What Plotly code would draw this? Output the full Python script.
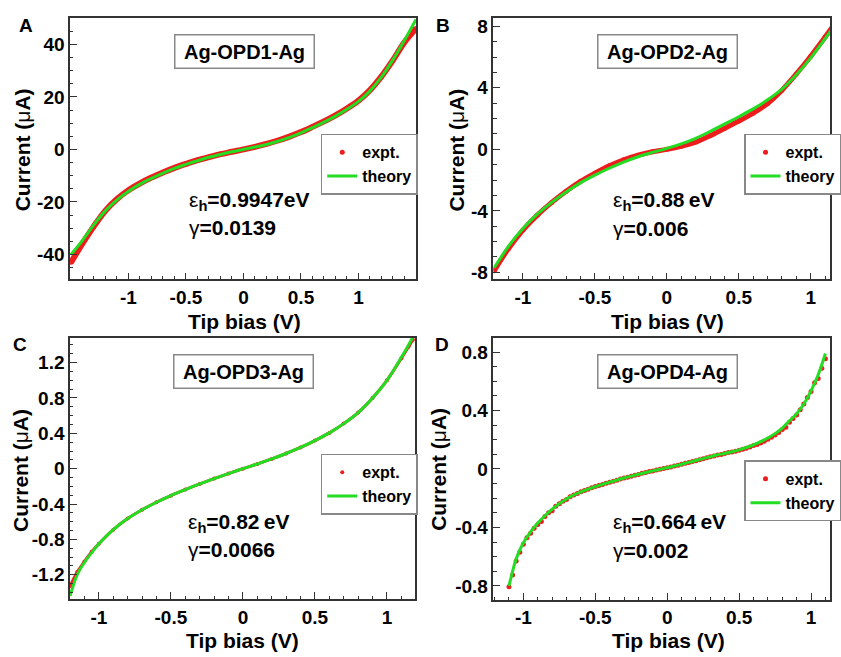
import plotly.graph_objects as go

# ---------------- data ----------------
# Panel A : Ag-OPD1-Ag
a_bias = [-1.5, -1.4, -1.3, -1.2, -1.1, -1.0, -0.9, -0.8, -0.7, -0.6, -0.5, -0.4, -0.3, -0.2, -0.1, 0.0,
          0.1, 0.2, 0.3, 0.4, 0.5, 0.6, 0.7, 0.8, 0.9, 1.0, 1.1, 1.2, 1.3, 1.4, 1.5]
a_expt = [-43.0, -35.8, -29.2, -23.3, -18.9, -15.5, -12.9, -10.7, -8.8, -7.0, -5.5, -4.1, -2.9, -1.8, -0.9, 0.0,
          1.0, 2.1, 3.4, 4.9, 6.6, 8.6, 10.7, 13.0, 15.6, 18.6, 22.6, 27.8, 34.0, 40.8, 46.0]
a_theory = [-40.0, -34.6, -28.6, -23.3, -19.2, -15.9, -13.2, -11.0, -9.0, -7.2, -5.7, -4.3, -3.0, -1.9, -0.9, 0.0,
            0.9, 1.9, 3.1, 4.6, 6.3, 8.3, 10.4, 12.7, 15.3, 18.3, 22.3, 27.6, 34.2, 41.6, 49.5]

# Panel B : Ag-OPD2-Ag
b_bias = [-1.2, -1.1, -1.0, -0.9, -0.8, -0.7, -0.6, -0.5, -0.4, -0.3, -0.2, -0.1, 0.0,
          0.1, 0.2, 0.3, 0.4, 0.5, 0.6, 0.7, 0.8, 0.9, 1.0, 1.1, 1.2]
b_expt = [-7.9, -6.45, -5.25, -4.28, -3.45, -2.72, -2.08, -1.55, -1.07, -0.68, -0.38, -0.16, 0.0,
          0.2, 0.47, 0.88, 1.36, 1.84, 2.35, 2.98, 3.85, 4.9, 6.05, 7.3, 8.6]
b_theory = [-7.7, -6.3, -5.15, -4.22, -3.45, -2.77, -2.18, -1.68, -1.23, -0.83, -0.48, -0.2, 0.06,
            0.35, 0.72, 1.16, 1.64, 2.12, 2.63, 3.22, 3.92, 4.85, 5.95, 7.2, 8.5]

# Panel C : Ag-OPD3-Ag
c_bias = [-1.2, -1.15, -1.1, -1.05, -1.0, -0.9, -0.8, -0.7, -0.6, -0.5, -0.4, -0.3, -0.2, -0.1, 0.0,
          0.1, 0.2, 0.3, 0.4, 0.5, 0.6, 0.7, 0.8, 0.9, 1.0, 1.1, 1.15, 1.18]
c_expt = [-1.33, -1.17, -1.05, -0.94, -0.85, -0.69, -0.565, -0.465, -0.38, -0.305, -0.237, -0.172, -0.112, -0.055, 0.0,
          0.053, 0.11, 0.172, 0.24, 0.318, 0.405, 0.51, 0.635, 0.80, 1.0, 1.25, 1.38, 1.46]
c_theory = [-1.44, -1.2, -1.06, -0.95, -0.85, -0.69, -0.565, -0.465, -0.38, -0.305, -0.237, -0.172, -0.112, -0.055, 0.0,
            0.053, 0.11, 0.172, 0.24, 0.318, 0.405, 0.51, 0.635, 0.80, 1.0, 1.26, 1.40, 1.49]

# Panel D : Ag-OPD4-Ag
d_bias_expt = [-1.1, -1.075, -1.05, -1.025, -1.0, -0.975, -0.95, -0.925, -0.9, -0.875, -0.85, -0.825, -0.8,
               -0.775, -0.75, -0.725, -0.7, -0.675, -0.65, -0.625, -0.6, -0.575, -0.55, -0.525, -0.5,
               -0.475, -0.45, -0.425, -0.4, -0.375, -0.35, -0.325, -0.3, -0.275, -0.25, -0.225, -0.2,
               -0.175, -0.15, -0.125, -0.1, -0.075, -0.05, -0.025, 0.0, 0.025, 0.05, 0.075, 0.1, 0.125,
               0.15, 0.175, 0.2, 0.225, 0.25, 0.275, 0.3, 0.325, 0.35, 0.375, 0.4, 0.425, 0.45, 0.475,
               0.5, 0.525, 0.55, 0.575, 0.6, 0.625, 0.65, 0.675, 0.7, 0.725, 0.75, 0.775, 0.8, 0.825,
               0.85, 0.875, 0.9, 0.925, 0.95, 0.975, 1.0, 1.025, 1.05, 1.075, 1.1]
d_expt = [-0.805, -0.725, -0.63, -0.57, -0.515, -0.47, -0.44, -0.405, -0.38, -0.36, -0.325, -0.30, -0.285,
          -0.255, -0.238, -0.22, -0.208, -0.19, -0.178, -0.168, -0.155, -0.148, -0.138, -0.128, -0.12,
          -0.113, -0.106, -0.097, -0.09, -0.084, -0.077, -0.069, -0.062, -0.056, -0.049, -0.043, -0.037,
          -0.030, -0.024, -0.018, -0.013, -0.007, -0.002, 0.003, 0.008, 0.014, 0.02, 0.026, 0.032, 0.039,
          0.045, 0.051, 0.057, 0.064, 0.07, 0.077, 0.083, 0.089, 0.095, 0.1, 0.106, 0.112, 0.117, 0.122,
          0.129, 0.135, 0.142, 0.15, 0.16, 0.168, 0.178, 0.19, 0.203, 0.218, 0.232, 0.25, 0.27, 0.285,
          0.32, 0.345, 0.37, 0.405, 0.445, 0.49, 0.53, 0.59, 0.62, 0.69, 0.755]
d_bias_theory = [-1.1, -1.075, -1.05, -1.0, -0.95, -0.9, -0.85, -0.8, -0.75, -0.7, -0.65, -0.6, -0.55, -0.5,
                 -0.45, -0.4, -0.35, -0.3, -0.25, -0.2, -0.15, -0.1, -0.05, 0.0, 0.05, 0.1, 0.15, 0.2, 0.25,
                 0.3, 0.35, 0.4, 0.45, 0.5, 0.55, 0.6, 0.65, 0.7, 0.75, 0.8, 0.85, 0.9, 0.95, 1.0, 1.05, 1.1]
d_theory = [-0.80, -0.70, -0.615, -0.505, -0.43, -0.37, -0.32, -0.275, -0.237, -0.205, -0.178, -0.156, -0.138, -0.121,
            -0.105, -0.090, -0.076, -0.062, -0.049, -0.036, -0.024, -0.013, -0.002, 0.008, 0.02, 0.033, 0.045, 0.058, 0.071,
            0.084, 0.097, 0.106, 0.118, 0.131, 0.147, 0.165, 0.187, 0.212, 0.242, 0.28, 0.33, 0.378, 0.445, 0.535, 0.645, 0.79]

# tick labels
x_ticks = [-1, -0.5, 0, 0.5, 1]
x_ticktext = ["-1", "-0.5", "0", "0.5", "1"]
a_yticks = [-40, -20, 0, 20, 40]
a_yticktext = ["-40", "-20", "0", "20", "40"]
b_yticks = [-8, -4, 0, 4, 8]
b_yticktext = ["-8", "-4", "0", "4", "8"]
c_yticks = [-1.2, -0.8, -0.4, 0, 0.4, 0.8, 1.2]
c_yticktext = ["-1.2", "-0.8", "-0.4", "0", "0.4", "0.8", "1.2"]
d_yticks = [-0.8, -0.4, 0, 0.4, 0.8]
d_yticktext = ["-0.8", "-0.4", "0", "0.4", "0.8"]

molecules = ["Ag-OPD1-Ag", "Ag-OPD2-Ag", "Ag-OPD3-Ag", "Ag-OPD4-Ag"]
panel_letters = ["A", "B", "C", "D"]
eps_text = ["0.9947eV", "0.88\u2009eV", "0.82\u2009eV", "0.664\u2009eV"]
gamma_text = ["0.0139", "0.006", "0.0066", "0.002"]

# ---------------- style ----------------
W, H = 841, 657
FONT = "Liberation Sans, Arial, Helvetica, sans-serif"
RED = "#ee1c1c"
GREEN = "#22dd22"
AXC = "#333333"

def px(x):
    return x / W

def py(y):
    return 1 - y / H

panels = [
    dict(xd=[71, 421.5], yd=[16, 280], xr=[-1.508, 1.5], yr=[-49.5, 50.1], ytv=a_yticks, ytt=a_yticktext, ymin=5,
         bx=a_bias, ex=a_expt, tx=a_bias, th=a_theory, band=6, msize=5),
    dict(xd=[500, 841], yd=[16, 280], xr=[-1.205, 1.134], yr=[-8.46, 8.55], ytv=b_yticks, ytt=b_yticktext, ymin=1,
         bx=b_bias, ex=b_expt, tx=b_bias, th=b_theory, band=5, msize=5),
    dict(xd=[71, 420.7], yd=[339, 602.7], xr=[-1.2, 1.196], yr=[-1.477, 1.48], ytv=c_yticks, ytt=c_yticktext, ymin=0.1,
         bx=c_bias, ex=c_expt, tx=c_bias, th=c_theory, band=3, msize=4),
    dict(xd=[500, 841], yd=[339, 603.3], xr=[-1.208, 1.132], yr=[-0.895, 0.897], ytv=d_yticks, ytt=d_yticktext, ymin=0.1,
         bx=d_bias_expt, ex=d_expt, tx=d_bias_theory, th=d_theory, band=0, msize=5),
]

fig = go.Figure()
layout = dict(width=W, height=H, margin=dict(l=0, r=0, t=0, b=0), paper_bgcolor="white",
              plot_bgcolor="white", showlegend=True)
annotations = []

title_centers = [(247.5, 50), (676.2, 50), (247.2, 372.8), (676.5, 372.7)]
letter_pos = [(26, 24), (449, 24), (20, 346), (448, 346)]
eps_pos = [(189, 201, 228), (619, 201, 229), (188, 526, 553), (619, 526, 554)]
ytitle_pos = [(23, 149), (463, 149), (20, 472.5), (445, 472)]
xtitle_pos = [(248, 322), (676, 322), (246, 644), (677, 644)]
legend_pos = [(325, 133), (754, 133), (325, 456), (754, 462.7)]

for i, p in enumerate(panels):
    n = "" if i == 0 else str(i + 1)
    xa, ya = "x" + n, "y" + n
    lg = "legend" + n
    if p["band"] > 0:
        fig.add_trace(go.Scatter(x=p["bx"], y=p["ex"], mode="lines", line=dict(color=RED, width=p["band"], shape="spline"),
                                 xaxis=xa, yaxis=ya, showlegend=False, hoverinfo="skip"))
    fig.add_trace(go.Scatter(x=p["bx"], y=p["ex"], mode="markers", name="expt.",
                             marker=dict(color=RED, size=p["msize"]), xaxis=xa, yaxis=ya, legend=lg))
    fig.add_trace(go.Scatter(x=p["tx"], y=p["th"], mode="lines", name="theory",
                             line=dict(color=GREEN, width=3, shape="spline"), xaxis=xa, yaxis=ya, legend=lg))

    common = dict(showline=True, linecolor=AXC, linewidth=1.5, mirror=True, ticks="inside", ticklen=7,
                  tickwidth=1.2, tickcolor=AXC, showgrid=False, zeroline=False,
                  tickfont=dict(family=FONT, size=19, color="black", weight="bold"))
    layout["xaxis" + n] = dict(domain=[px(p["xd"][0]), px(p["xd"][1])], range=p["xr"], anchor=ya,
                               tickmode="array", tickvals=x_ticks, ticktext=x_ticktext,
                               minor=dict(tickmode="linear", tick0=0, dtick=0.1, ticks="inside", ticklen=3.5,
                                          tickwidth=1.2, tickcolor=AXC, showgrid=False),
                               **common)
    layout["yaxis" + n] = dict(domain=[py(p["yd"][1]), py(p["yd"][0])], range=p["yr"], anchor=xa,
                               tickmode="array", tickvals=p["ytv"], ticktext=p["ytt"],
                               minor=dict(tickmode="linear", tick0=0, dtick=p["ymin"], ticks="inside", ticklen=3.5,
                                          tickwidth=1.2, tickcolor=AXC, showgrid=False),
                               **common)
    lx, ly = legend_pos[i]
    layout[lg] = dict(x=px(lx), y=py(ly), xanchor="left", yanchor="top", bgcolor="white",
                      bordercolor="#888888", borderwidth=1.5, itemwidth=30, tracegroupgap=0,
                      font=dict(family=FONT, size=16, color="black", weight="bold"))

    tx_, ty_ = title_centers[i]
    annotations.append(dict(x=px(tx_), y=py(ty_), xref="paper", yref="paper", xanchor="center", yanchor="middle",
                            text="<b>" + molecules[i] + "</b>", showarrow=False,
                            font=dict(family=FONT, size=20, color="black"),
                            bgcolor="white", bordercolor="#888888", borderwidth=1.5, borderpad=4,
                            width=130, height=24))
    lx_, ly_ = letter_pos[i]
    annotations.append(dict(x=px(lx_), y=py(ly_), xref="paper", yref="paper", xanchor="center", yanchor="middle",
                            text="<b>" + panel_letters[i] + "</b>", showarrow=False,
                            font=dict(family=FONT, size=19, color="black")))
    ex_, e1, e2 = eps_pos[i]
    annotations.append(dict(x=px(ex_), y=py(e1), xref="paper", yref="paper", xanchor="left", yanchor="middle",
                            text="ε<sub><b>h</b></sub><b>=" + eps_text[i] + "</b>", showarrow=False,
                            font=dict(family=FONT, size=21, color="black")))
    annotations.append(dict(x=px(ex_), y=py(e2), xref="paper", yref="paper", xanchor="left", yanchor="middle",
                            text="γ<b>=" + gamma_text[i] + "</b>", showarrow=False,
                            font=dict(family=FONT, size=21, color="black")))
    yx_, yy_ = ytitle_pos[i]
    annotations.append(dict(x=px(yx_), y=py(yy_), xref="paper", yref="paper", xanchor="center", yanchor="middle",
                            text="<b>Current (</b>μ<b>A)</b>", textangle=-90, showarrow=False,
                            font=dict(family=FONT, size=21, color="black")))
    xx_, xy_ = xtitle_pos[i]
    annotations.append(dict(x=px(xx_), y=py(xy_), xref="paper", yref="paper", xanchor="center", yanchor="middle",
                            text="<b>Tip bias (V)</b>", showarrow=False,
                            font=dict(family=FONT, size=21, color="black")))

layout["annotations"] = annotations
fig.update_layout(**layout)
fig.write_html("out.html")
